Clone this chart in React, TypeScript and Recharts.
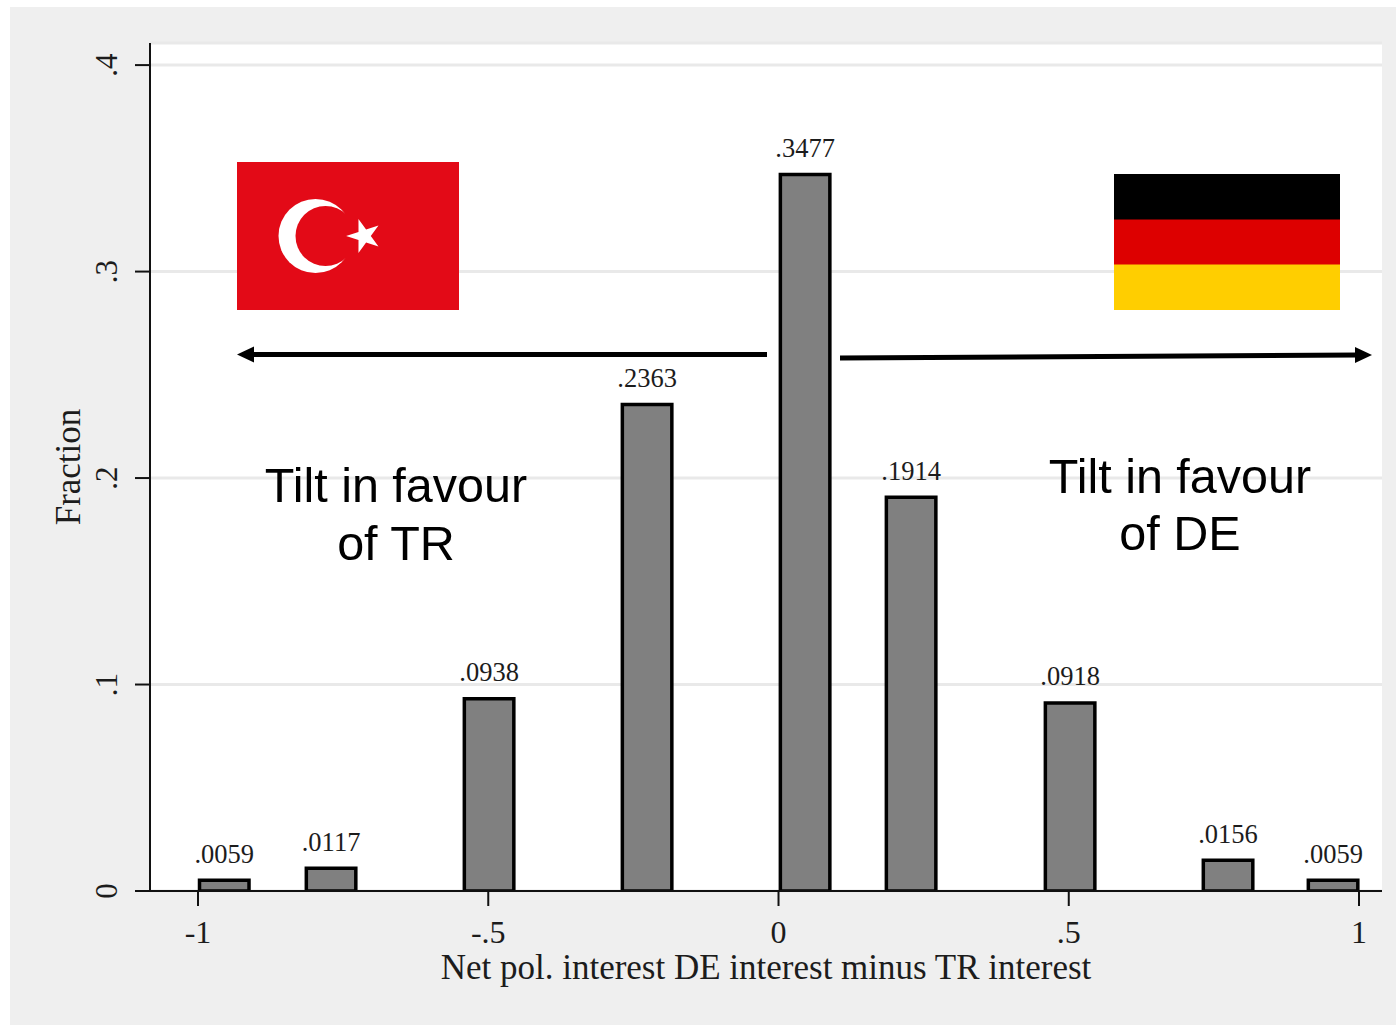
import React from "react";
import {
  ComposedChart,
  Bar,
  XAxis,
  YAxis,
  CartesianGrid,
  LabelList,
  Label,
  Rectangle,
} from "recharts";

// bin centres
const binCentres = [-0.9552, -0.7712, -0.499, -0.2268, 0.0454, 0.228, 0.5019, 0.774, 0.9549];
const fractions = [0.0059, 0.0117, 0.0938, 0.2363, 0.3477, 0.1914, 0.0918, 0.0156, 0.0059];
const xTicks = [-1, -0.5, 0, 0.5, 1];
const yTicks = [0, 0.1, 0.2, 0.3, 0.4];

const data = binCentres.map((x, i) => ({ x, fraction: fractions[i] }));

const SERIF = "'Liberation Serif', serif";
const SANS = "'Liberation Sans', Arial, sans-serif";
const INK = "#1c1c1c";

// Stata style labels: no leading zero
const fmt = (v: number) =>
  v === 0 ? "0" : String(v).replace(/^(-?)0\./, "$1.");

function YTick({ x, y, payload }: any) {
  return (
    <text
      x={0}
      y={0}
      transform={`translate(${x - 16} ${y}) rotate(-90)`}
      textAnchor="middle"
      fontFamily={SERIF}
      fontSize={31}
      fill={INK}
    >
      {fmt(payload.value)}
    </text>
  );
}

// outline sits inside the value, as in the Stata export
function HistBar(props: any) {
  const { x, y, width, height, fill, stroke, strokeWidth } = props;
  return (
    <Rectangle
      x={x}
      y={y + 1.5}
      width={width}
      height={height - 1.5}
      fill={fill}
      stroke={stroke}
      strokeWidth={strokeWidth}
    />
  );
}

function star(cx: number, cy: number, R: number, r: number) {
  const pts: string[] = [];
  for (let i = 0; i < 10; i++) {
    const a = Math.PI + (i * Math.PI) / 5;
    const d = i % 2 === 0 ? R : r;
    pts.push(`${cx + d * Math.cos(a)},${cy + d * Math.sin(a)}`);
  }
  return pts.join(" ");
}

function Overlay() {
  return (
    <svg
      width={1396}
      height={1026}
      style={{ position: "absolute", left: 0, top: 0, pointerEvents: "none" }}
    >
      {/* Turkey */}
      <rect x={237} y={162} width={222} height={148} fill="#E30A17" />
      <circle cx={315.5} cy={236} r={37} fill="#fff" />
      <circle cx={325.5} cy={236} r={30} fill="#E30A17" />
      <polygon points={star(364, 236, 17.9, 6.8)} fill="#fff" />
      {/* Germany */}
      <rect x={1114} y={174} width={226} height={46} fill="#000" />
      <rect x={1114} y={219.5} width={226} height={45.5} fill="#DD0000" />
      <rect x={1114} y={264.5} width={226} height={45.5} fill="#FFCE00" />
      {/* arrows */}
      <line x1={250} y1={354.5} x2={767} y2={354.5} stroke="#000" strokeWidth={5} />
      <polygon points="237,354.5 254,346.5 254,362.5" fill="#000" />
      <line x1={840} y1={358} x2={1358} y2={355} stroke="#000" strokeWidth={5} />
      <polygon points="1372,355 1355,347 1355,363" fill="#000" />
      {/* annotations */}
      <g fontFamily={SANS} fontSize={48.5} fill="#000" textAnchor="middle">
        <text x={396} y={502}>Tilt in favour</text>
        <text x={396} y={560}>of TR</text>
        <text x={1180} y={493}>Tilt in favour</text>
        <text x={1180} y={550}>of DE</text>
      </g>
    </svg>
  );
}

export default function App() {
  return (
    <div style={{ position: "absolute", left: 0, top: 0, width: 1396, height: 1026, background: "#fff" }}>
      <div style={{ position: "absolute", left: 10, top: 7, width: 1386, height: 1018, background: "#EFEFEF" }} />
      <ComposedChart
        width={1396}
        height={1026}
        data={data}
        margin={{ top: 43, right: 14, left: 0, bottom: 0 }}
        style={{ position: "absolute", left: 0, top: 0 }}
      >
        <CartesianGrid
          vertical={false}
          stroke="#E9E9E9"
          strokeWidth={3}
          fill="#fff"
          fillOpacity={1}
        />
        <XAxis
          dataKey="x"
          type="number"
          domain={[-1.0827, 1.0396]}
          ticks={xTicks}
          height={135}
          interval={0}
          allowDataOverflow
          tickFormatter={fmt}
          tickSize={15}
          tickMargin={14}
          stroke="#111"
          strokeWidth={2}
          tick={{ fontFamily: SERIF, fontSize: 32, fill: INK }}
        >
          <Label
            value="Net pol. interest DE interest minus TR interest"
            position="insideBottom"
            offset={47}
            style={{ fontFamily: SERIF, fontSize: 35, fill: INK }}
          />
        </XAxis>
        <YAxis
          type="number"
          domain={[0, 0.4107]}
          ticks={yTicks}
          width={150}
          interval={0}
          allowDataOverflow
          tickSize={15}
          stroke="#111"
          strokeWidth={2}
          tick={<YTick />}
        >
          <Label
            value="Fraction"
            angle={-90}
            position="insideLeft"
            offset={0}
            dx={68}
            style={{ fontFamily: SERIF, fontSize: 35, fill: INK, textAnchor: "middle" }}
          />
        </YAxis>
        <Bar
          dataKey="fraction"
          barSize={49.5}
          fill="#808080"
          stroke="#000"
          strokeWidth={3.5}
          shape={HistBar}
          isAnimationActive={false}
        >
          <LabelList
            dataKey="fraction"
            position="top"
            offset={16}
            formatter={fmt as any}
            style={{ fontFamily: SERIF, fontSize: 26.5, fill: INK }}
          />
        </Bar>
      </ComposedChart>
      <Overlay />
    </div>
  );
}
